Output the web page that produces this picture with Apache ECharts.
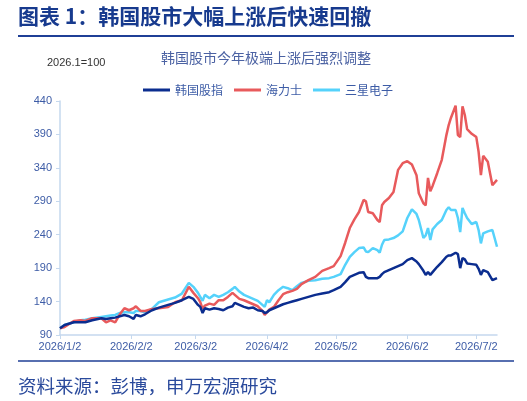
<!DOCTYPE html>
<html>
<head>
<meta charset="utf-8">
<script src="https://cdn.jsdelivr.net/npm/echarts@6/dist/echarts.min.js"></script>
<style>
  html, body { margin: 0; padding: 0; background: #fff; }
  #main { width: 527px; height: 401px; }
</style>
</head>
<body>
<div id="main"></div>
<script>
// 日期（约每两日取一点）
var dates = [
  '2026-01-02','2026-01-04','2026-01-08','2026-01-11','2026-01-13','2026-01-16','2026-01-20','2026-01-22','2026-01-24','2026-01-26',
  '2026-01-28','2026-01-30','2026-02-01','2026-02-03','2026-02-04','2026-02-06','2026-02-08','2026-02-11','2026-02-14','2026-02-18',
  '2026-02-21','2026-02-24','2026-02-27','2026-03-01','2026-03-03','2026-03-04','2026-03-05','2026-03-06','2026-03-08','2026-03-10',
  '2026-03-12','2026-03-14','2026-03-16','2026-03-18','2026-03-19','2026-03-21','2026-03-23','2026-03-25','2026-03-27','2026-03-29',
  '2026-03-31','2026-04-01','2026-04-02','2026-04-03','2026-04-05','2026-04-07','2026-04-09','2026-04-11','2026-04-13','2026-04-15',
  '2026-04-17','2026-04-20','2026-04-23','2026-04-26','2026-04-29','2026-05-01','2026-05-04','2026-05-06','2026-05-08','2026-05-10',
  '2026-05-12','2026-05-14','2026-05-15','2026-05-16','2026-05-18','2026-05-20','2026-05-21','2026-05-22','2026-05-23','2026-05-25',
  '2026-05-27','2026-05-29','2026-05-31','2026-06-02','2026-06-04','2026-06-06','2026-06-07','2026-06-09','2026-06-10','2026-06-11',
  '2026-06-12','2026-06-13','2026-06-15','2026-06-17','2026-06-19','2026-06-20','2026-06-21','2026-06-23','2026-06-24','2026-06-25',
  '2026-06-26','2026-06-27','2026-06-28','2026-06-30','2026-07-02','2026-07-03','2026-07-04','2026-07-05','2026-07-07','2026-07-09',
  '2026-07-11'
];

// 韩国股指
var kospi = [
  100,105,109,109,109,112,115,114,115,116,
  118,120,118,114,120,118,121,127,131,135,
  138,142,147,144,135,132,123,130,128,130,
  129,127,131,133,138,135,132,130,131,127,
  126,123,124,127,130,133,136,138,140,142,
  144,147,150,152,154,157,162,169,177,180,
  183,184,177,175,175,175,177,181,184,187,
  190,193,196,202,205,200,196,186,180,184,
  180,184,192,199,207,209,209,213,211,190,
  205,203,197,196,195,189,180,187,184,172,
  175
];

// 海力士
var hynix = [
  100,102,111,112,111,115,115,109,112,109,
  121,130,127,130,133,126,126,129,130,132,
  139,142,162,153,145,139,129,134,137,135,
  142,142,147,153,150,144,142,139,136,133,
  126,120,124,128,132,142,151,154,156,159,
  166,172,177,186,190,193,208,228,250,263,
  274,292,290,274,272,262,259,284,289,295,
  304,337,347,350,345,329,302,287,284,325,
  305,313,332,352,389,404,415,433,389,386,
  432,419,398,391,386,364,329,358,349,314,
  322
];

// 三星电子
var samsung = [
  100,105,109,112,113,115,117,118,119,120,
  123,124,124,123,126,126,124,129,139,143,
  146,152,168,162,153,147,141,150,145,150,
  147,150,154,159,162,155,150,147,144,141,
  135,132,142,139,150,157,162,160,157,163,
  168,171,172,174,175,177,181,195,207,214,
  220,221,215,214,220,217,213,225,232,233,
  235,239,245,265,278,271,262,235,239,250,
  232,248,256,262,277,281,277,277,265,244,
  280,272,265,256,259,247,227,242,245,247,
  222
];

var seriesNames = ['韩国股指', '海力士', '三星电子'];
var seriesColors = ['#0b2d8f', '#e85a5c', '#55d2fb'];
var yTicks = [90, 140, 190, 240, 290, 340, 390, 440];
var xTickDates = ['2026-01-02','2026-02-02','2026-03-02','2026-04-02','2026-05-02','2026-06-02','2026-07-02'];

function ts(s){
  var p = s.split('-');
  return new Date(+p[0], +p[1] - 1, +p[2]).getTime();
}
function zip(vals){
  var out = [];
  for (var i = 0; i < dates.length; i++) out.push([ts(dates[i]), vals[i]]);
  return out;
}

var labelColor = '#3d5ca6';
var axisColor = '#c5d8ee';
var numFont = 'Arial, "Liberation Sans", "Noto Sans CJK SC", sans-serif';
var cjkFont = '"Noto Sans CJK SC", sans-serif';

var chart = echarts.init(document.getElementById('main'));

var allData = [kospi, hynix, samsung];
var series = [];
for (var s = 0; s < allData.length; s++) {
  series.push({
    name: seriesNames[s],
    type: 'line',
    data: zip(allData[s]),
    symbol: 'none',
    lineStyle: { width: 2.5, color: seriesColors[s] },
    itemStyle: { color: seriesColors[s] },
    z: 3 - s
  });
}

var option = {
  animation: false,
  backgroundColor: '#fff',
  grid: { left: 60, right: 30, top: 101, bottom: 66 },
  legend: {
    top: 79,
    left: 138,
    icon: 'rect',
    itemWidth: 27,
    itemHeight: 3,
    itemGap: 11,
    textStyle: { color: labelColor, fontSize: 12, fontFamily: cjkFont },
    data: seriesNames
  },
  xAxis: {
    // 时间戳数值轴，刻度放在每月2日
    type: 'value',
    min: ts('2026-01-02'),
    max: ts('2026-07-11'),
    axisLine: { show: true, lineStyle: { color: axisColor, width: 1.5 } },
    axisTick: { show: true, customValues: xTickDates.map(ts), length: 4, lineStyle: { color: axisColor } },
    splitLine: { show: false },
    axisLabel: {
      customValues: xTickDates.map(ts),
      color: labelColor,
      fontSize: 11,
      fontFamily: numFont,
      margin: 6,
      formatter: function (v) {
        var d = new Date(v);
        return d.getFullYear() + '/' + (d.getMonth() + 1) + '/' + d.getDate();
      }
    }
  },
  yAxis: {
    type: 'value',
    min: 90,
    max: 440,
    axisLine: { show: true, lineStyle: { color: axisColor, width: 1.5 } },
    axisTick: { show: true, customValues: yTicks, length: 4, lineStyle: { color: axisColor } },
    splitLine: { show: false },
    axisLabel: { customValues: yTicks, color: labelColor, fontSize: 11, fontFamily: numFont, margin: 8 }
  },
  graphic: [
    {
      type: 'text', left: 18, top: 6,
      style: { text: '图表 1：韩国股市大幅上涨后快速回撤', fill: '#173a8e', font: 'bold 21px ' + cjkFont }
    },
    {
      type: 'line', shape: { x1: 18, y1: 36, x2: 514, y2: 36 },
      style: { stroke: '#1f3f96', lineWidth: 2 }
    },
    {
      type: 'text', x: 266, y: 58,
      style: { text: '韩国股市今年极端上涨后强烈调整', fill: '#4b62a3', font: '14px ' + cjkFont, textAlign: 'center', textVerticalAlign: 'middle' }
    },
    {
      type: 'text', x: 47, y: 63,
      style: { text: '2026.1=100', fill: '#333', font: '11px ' + numFont, textVerticalAlign: 'middle' }
    },
    {
      type: 'line', shape: { x1: 18, y1: 361, x2: 514, y2: 361 },
      style: { stroke: '#1f3f96', lineWidth: 1.5 }
    },
    {
      type: 'text', x: 18, y: 386,
      style: { text: '资料来源：彭博，申万宏源研究', fill: '#2a4a9c', font: '18.5px ' + cjkFont, textVerticalAlign: 'middle' }
    }
  ],
  series: series
};

chart.setOption(option);
</script>
</body>
</html>
